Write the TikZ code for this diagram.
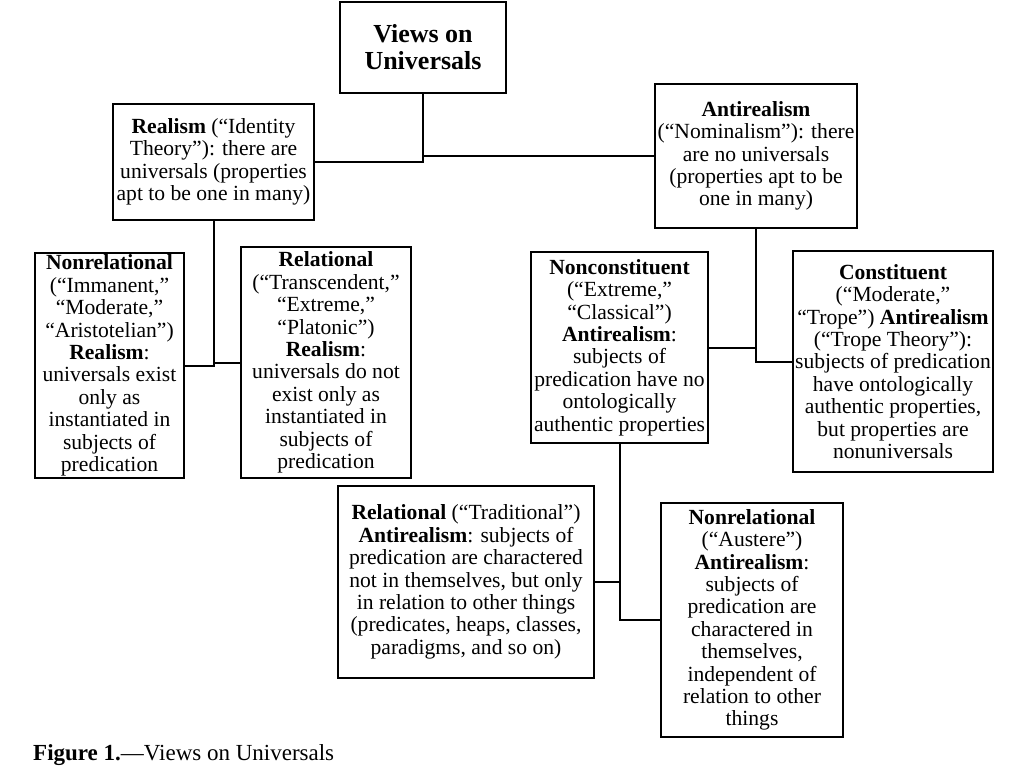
\documentclass[tikz,border=0pt]{standalone}
\usepackage{fontspec}
\setmainfont{Liberation Serif}
\begin{document}
\begin{tikzpicture}[x=1pt,y=-1pt,
  box/.style={draw=black, line width=2pt, fill=white, inner sep=0pt, align=center,
    font=\fontsize{21.6}{22.4}\selectfont},
  link/.style={draw=black, line width=2pt}]
\useasboundingbox (0,0) rectangle (1025,771);
\fill[white] (0,0) rectangle (1025,771);

\node[box, minimum width=166pt, minimum height=91pt, font=\fontsize{26}{27}\selectfont\bfseries] (top) at (423,47.5) {Views on\\Universals};

\node[box, minimum width=201pt, minimum height=116pt] (real) at (213.5,162)
 {\textbf{Realism} (“Identity\\Theory”): there are\\universals (properties\\apt to be one in many)};

\node[box, minimum width=202pt, minimum height=144pt] (anti) at (756,156)
 {\textbf{Antirealism}\\(“Nominalism”): there\\are no universals\\(properties apt to be\\one in many)};

\node[box, minimum width=149pt, minimum height=225pt] (nrl) at (109.5,365.5)
 {\textbf{Nonrelational}\\(“Immanent,”\\“Moderate,”\\“Aristotelian”)\\\textbf{Realism}:\\universals exist\\only as\\instantiated in\\subjects of\\predication};

\node[box, minimum width=170pt, minimum height=231pt] (rl) at (326,362.5)
 {\textbf{Relational}\\(“Transcendent,”\\“Extreme,”\\“Platonic”)\\\textbf{Realism}:\\universals do not\\exist only as\\instantiated in\\subjects of\\predication};

\node[box, minimum width=177pt, minimum height=191pt] (ncon) at (619.5,347.5)
 {\textbf{Nonconstituent}\\(“Extreme,”\\“Classical”)\\\textbf{Antirealism}:\\subjects of\\predication have no\\ontologically\\authentic properties};

\node[box, minimum width=200pt, minimum height=221pt] (con) at (893,361.5)
 {\textbf{Constituent}\\(“Moderate,”\\“Trope”) \textbf{Antirealism}\\(“Trope Theory”):\\subjects of predication\\have ontologically\\authentic properties,\\but properties are\\nonuniversals};

\node[box, minimum width=256pt, minimum height=192pt] (rt) at (466,582)
 {\textbf{Relational} (“Traditional”)\\\textbf{Antirealism}: subjects of\\predication are charactered\\not in themselves, but only\\in relation to other things\\(predicates, heaps, classes,\\paradigms, and so on)};

\node[box, minimum width=182pt, minimum height=234pt] (na) at (752,620)
 {\textbf{Nonrelational}\\(“Austere”)\\\textbf{Antirealism}:\\subjects of\\predication are\\charactered in\\themselves,\\independent of\\relation to other\\things};

\node[anchor=base west, inner sep=0pt, font=\fontsize{23}{24}\selectfont] (cap) at (33,760)
 {\textbf{Figure 1.}—Views on Universals};

% connectors
\draw[link] (real.east) -| (top.south);
\draw[link] (top.south |- anti.west) -- (anti.west);
\draw[link] (nrl.east) -| (real.south);
\draw[link] (real.south |- rl.west) -- (rl.west);
\draw[link] (con.west) -| (anti.south);
\draw[link] (anti.south |- ncon.east) -- (ncon.east);
\draw[link] (na.west) -| (ncon.south);
\draw[link] (ncon.south |- rt.east) -- (rt.east);
\end{tikzpicture}
\end{document}
